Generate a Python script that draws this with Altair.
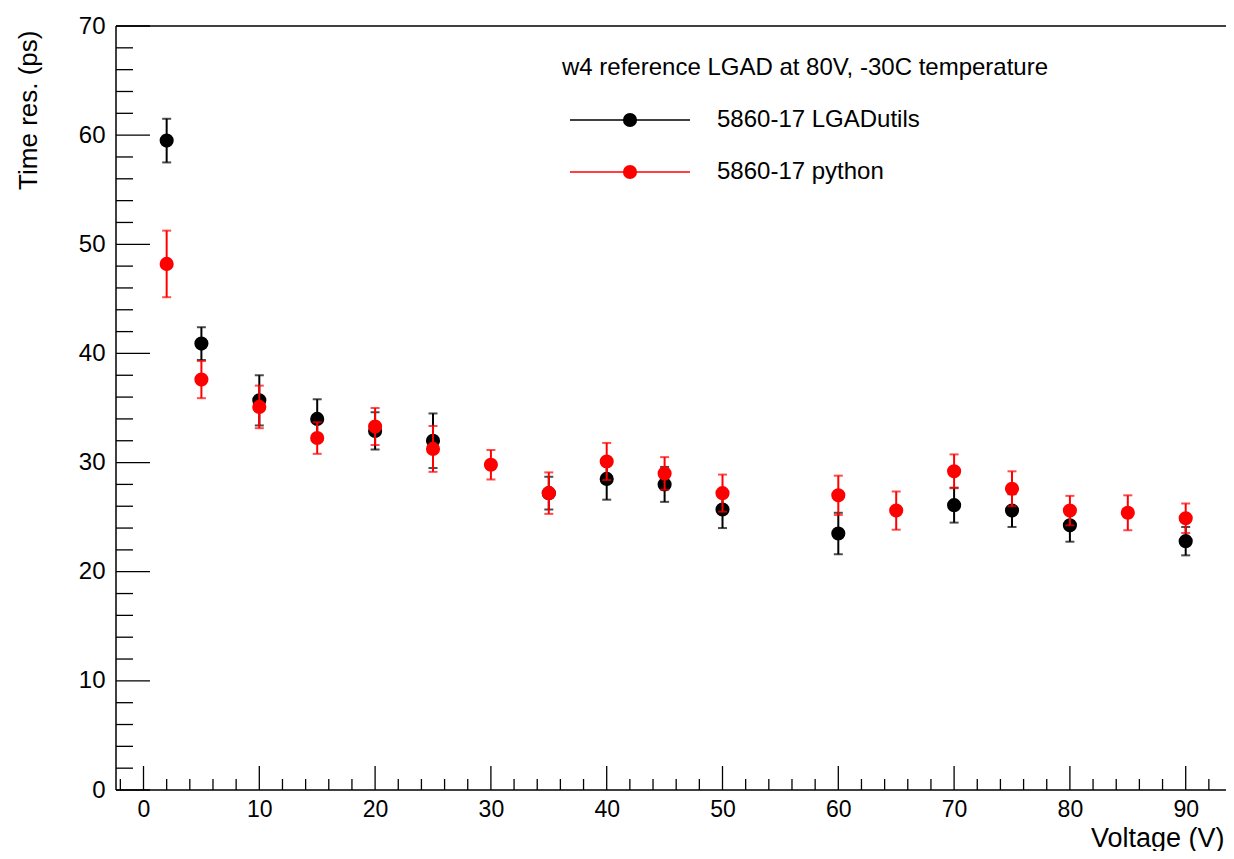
import altair as alt
import pandas as pd

# ---- data ----
black_x = [2, 5, 10, 15, 20, 25, 35, 40, 45, 50, 60, 70, 75, 80, 90]
black_y = [59.5, 40.9, 35.7, 34.0, 32.9, 32.0, 27.2, 28.5, 28.0, 25.7, 23.5, 26.1, 25.6, 24.25, 22.8]
black_err = [2.0, 1.5, 2.3, 1.8, 1.7, 2.5, 1.5, 1.9, 1.6, 1.7, 1.9, 1.6, 1.5, 1.5, 1.3]

red_x = [2, 5, 10, 15, 20, 25, 30, 35, 40, 45, 50, 60, 65, 70, 75, 80, 85, 90]
red_y = [48.2, 37.6, 35.1, 32.25, 33.3, 31.25, 29.8, 27.2, 30.1, 29.0, 27.2, 27.0, 25.6, 29.2, 27.6, 25.6, 25.4, 24.9]
red_err = [3.05, 1.7, 1.95, 1.45, 1.7, 2.1, 1.35, 1.9, 1.7, 1.5, 1.7, 1.8, 1.75, 1.55, 1.6, 1.35, 1.6, 1.35]

series_names = ["5860-17 LGADutils", "5860-17 python"]
legend_title = "w4 reference LGAD at 80V, -30C temperature"
x_title = "Voltage (V)"
y_title = "Time res. (ps)"

x_major = [0, 10, 20, 30, 40, 50, 60, 70, 80, 90]
x_minor = [-2, 2, 4, 6, 8, 12, 14, 16, 18, 22, 24, 26, 28, 32, 34, 36, 38, 42, 44, 46, 48,
           52, 54, 56, 58, 62, 64, 66, 68, 72, 74, 76, 78, 82, 84, 86, 88, 92]
y_major = [0, 10, 20, 30, 40, 50, 60, 70]
y_minor = [2, 4, 6, 8, 12, 14, 16, 18, 22, 24, 26, 28, 32, 34, 36, 38, 42, 44, 46, 48,
           52, 54, 56, 58, 62, 64, 66, 68]

W, H = 1110, 764
FONT = "Liberation Sans"
XMIN = -2.375
XMAX = XMIN + W / 11.58

xs = alt.Scale(domain=[XMIN, XMAX], nice=False, zero=False)
ys = alt.Scale(domain=[0, 70], nice=False, zero=False)

x_axis = alt.Axis(
    values=x_major, ticks=False, domain=False, grid=False, labelPadding=8,
    labelFontSize=23, labelFont=FONT, labelColor="black",
    title=x_title, titleFont=FONT, titleFontSize=27, titleFontWeight="normal",
    titleColor="black", titleX=1108, titleY=56, titleAlign="right",
    titleBaseline="alphabetic", titleAngle=0)
y_axis = alt.Axis(
    values=y_major, ticks=False, domain=False, grid=False, labelPadding=11,
    labelFontSize=24, labelFont=FONT, labelColor="black",
    title=y_title, titleFont=FONT, titleFontSize=26, titleFontWeight="normal",
    titleColor="black", titleX=-88, titleY=4, titleAlign="right",
    titleBaseline="middle", titleAngle=270)


def X(field):
    return alt.X(field, type="quantitative", scale=xs, axis=x_axis)


def Y(field):
    return alt.Y(field, type="quantitative", scale=ys, axis=y_axis)


def series_df(x, y, e):
    df = pd.DataFrame({"x": x, "y": y, "e": e})
    df["lo"] = df["y"] - df["e"]
    df["hi"] = df["y"] + df["e"]
    return df


def series_layers(df, color):
    bars = alt.Chart(df).mark_rule(color=color, strokeWidth=2).encode(
        x=X("x"), y=Y("lo"), y2="hi")
    cap_lo = alt.Chart(df).mark_tick(color=color, orient="horizontal", size=9, thickness=2).encode(
        x=X("x"), y=Y("lo"))
    cap_hi = alt.Chart(df).mark_tick(color=color, orient="horizontal", size=9, thickness=2).encode(
        x=X("x"), y=Y("hi"))
    pts = alt.Chart(df).mark_point(filled=True, shape="circle", size=200, opacity=1, color=color).encode(
        x=X("x"), y=Y("y"))
    return [bars, cap_lo, cap_hi, pts]


black_df = series_df(black_x, black_y, black_err)
red_df = series_df(red_x, red_y, red_err)

one = pd.DataFrame({"a": [0]})

# frame (top, left, bottom)
frame = [
    alt.Chart(one).mark_rule(color="black", strokeWidth=1.5).encode(
        x=alt.value(0), x2=alt.value(W), y=alt.value(0)),
    alt.Chart(one).mark_rule(color="black", strokeWidth=1.5).encode(
        x=alt.value(0), x2=alt.value(W), y=alt.value(H)),
    alt.Chart(one).mark_rule(color="black", strokeWidth=1.5).encode(
        x=alt.value(0), y=alt.value(0), y2=alt.value(H)),
]

# inward ticks
ticks = [
    alt.Chart(pd.DataFrame({"v": y_major})).mark_rule(color="black", strokeWidth=1.3).encode(
        y=Y("v"), x=alt.value(0), x2=alt.value(34)),
    alt.Chart(pd.DataFrame({"v": y_minor})).mark_rule(color="black", strokeWidth=1.3).encode(
        y=Y("v"), x=alt.value(0), x2=alt.value(17)),
    alt.Chart(pd.DataFrame({"v": x_major})).mark_rule(color="black", strokeWidth=1.3).encode(
        x=X("v"), y=alt.value(H), y2=alt.value(H - 24)),
    alt.Chart(pd.DataFrame({"v": x_minor})).mark_rule(color="black", strokeWidth=1.3).encode(
        x=X("v"), y=alt.value(H), y2=alt.value(H - 11)),
]

# legend (drawn by hand)
LX, LY = 446, 42
legend = [
    alt.Chart(pd.DataFrame({"t": [legend_title]})).mark_text(
        align="left", baseline="middle", font=FONT, fontSize=24, color="black").encode(
        x=alt.value(LX), y=alt.value(LY), text="t:N"),
]
for i, (name, color) in enumerate(zip(series_names, ["black", "red"])):
    yy = 94 + 52 * i
    legend += [
        alt.Chart(one).mark_rule(color=color, strokeWidth=1.5).encode(
            x=alt.value(454), x2=alt.value(574), y=alt.value(yy)),
        alt.Chart(one).mark_point(filled=True, shape="circle", size=200, opacity=1, color=color).encode(
            x=alt.value(514), y=alt.value(yy)),
        alt.Chart(pd.DataFrame({"t": [name]})).mark_text(
            align="left", baseline="middle", font=FONT, fontSize=24, color="black").encode(
            x=alt.value(601), y=alt.value(yy), text="t:N"),
    ]

chart = alt.layer(
    *ticks, *frame,
    *series_layers(black_df, "black"),
    *series_layers(red_df, "red"),
    *legend,
).properties(
    width=W, height=H,
    padding={"left": 108, "top": 18, "right": 0, "bottom": 61},
    autosize=alt.AutoSizeParams(type="none"),
    background="white",
).configure_view(stroke=None)

chart.save("out.html", embed_options={"renderer": "svg", "actions": False})
